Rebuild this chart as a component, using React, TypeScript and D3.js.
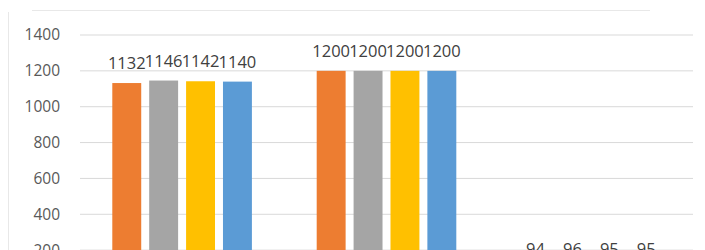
import * as d3 from "d3";
import { useEffect, useMemo, useRef } from "react";

const categories = ["Category 1", "Category 2", "Category 3"];
const seriesNames = ["Series 1", "Series 2", "Series 3", "Series 4"];
const seriesColors = ["#ED7D31", "#A5A5A5", "#FFC000", "#5B9BD5"];
const series1 = [1132, 1200, 94];
const series2 = [1146, 1200, 96];
const series3 = [1142, 1200, 95];
const series4 = [1140, 1200, 95];
const yTicks = [0, 200, 400, 600, 800, 1000, 1200, 1400];

const allSeries = [series1, series2, series3, series4];

function GroupedBarChart({ width, height }: { width: number; height: number }) {
  const axesRef = useRef(null);

  // plot area: the picture is a crop, the zero line sits below the bottom edge
  const margin = { top: 35, right: 12, bottom: -36, left: 80 };
  const boundsWidth = width - margin.left - margin.right;
  const boundsHeight = height - margin.top - margin.bottom;

  const yScale = useMemo(() => {
    return d3.scaleLinear().domain([0, 1400]).range([boundsHeight, 0]);
  }, [boundsHeight]);

  const xScale = useMemo(() => {
    return d3
      .scaleBand<string>()
      .domain(categories)
      .range([0, boundsWidth])
      .paddingInner(0.317)
      .paddingOuter(0.158);
  }, [boundsWidth]);

  const xSub = useMemo(() => {
    return d3
      .scaleBand<string>()
      .domain(seriesNames)
      .range([0, xScale.bandwidth()])
      .paddingInner(0.216)
      .paddingOuter(0);
  }, [xScale]);

  // y tick labels with d3, no domain line
  useEffect(() => {
    const svgElement = d3.select(axesRef.current);
    svgElement.selectAll("*").remove();
    const yAxisGenerator = d3
      .axisLeft(yScale)
      .tickValues(yTicks)
      .tickSize(0)
      .tickPadding(20)
      .tickFormat((d) => String(d));
    const g = svgElement.append("g").call(yAxisGenerator);
    g.select(".domain").remove();
    g.selectAll("text")
      .attr("fill", "#595959")
      .style("font-family", "'Open Sans', sans-serif")
      .style("font-size", "15.5px");
  }, [yScale]);

  const rectangles = categories.map((cat, i) => (
    <g key={cat} transform={`translate(${xScale(cat)},0)`}>
      {seriesNames.map((name, j) => {
        const v = allSeries[j][i];
        return (
          <rect
            key={name}
            x={xSub(name)}
            y={yScale(v)}
            width={xSub.bandwidth()}
            height={boundsHeight - yScale(v)}
            fill={seriesColors[j]}
          />
        );
      })}
    </g>
  ));

  const labels = categories.map((cat, i) => (
    <g key={cat} transform={`translate(${xScale(cat)},0)`}>
      {seriesNames.map((name, j) => {
        const v = allSeries[j][i];
        return (
          <text
            key={name}
            x={(xSub(name) ?? 0) + xSub.bandwidth() / 2}
            y={yScale(v) - 14}
            textAnchor="middle"
            fill="#404040"
            style={{ fontFamily: "'Open Sans', sans-serif", fontSize: "16.5px" }}
          >
            {v}
          </text>
        );
      })}
    </g>
  ));

  return (
    <svg width={width} height={height} style={{ display: "block" }}>
      <rect width={width} height={height} fill="#ffffff" />
      {/* faint chart frame */}
      <line x1={32} x2={650} y1={10.5} y2={10.5} stroke="#e8e8e8" />
      <line x1={8.5} x2={8.5} y1={12} y2={height} stroke="#e8e8e8" />
      <g transform={`translate(${margin.left},${margin.top})`}>
        {yTicks.map((t) => (
          <line
            key={t}
            x1={0}
            x2={boundsWidth}
            y1={yScale(t)}
            y2={yScale(t)}
            stroke="#d9d9d9"
          />
        ))}
        {rectangles}
        {labels}
      </g>
      <g ref={axesRef} transform={`translate(${margin.left},${margin.top})`} />
    </svg>
  );
}

export default function App() {
  return (
    <div style={{ position: "absolute", left: 0, top: 0 }}>
      <GroupedBarChart width={705} height={250} />
    </div>
  );
}
